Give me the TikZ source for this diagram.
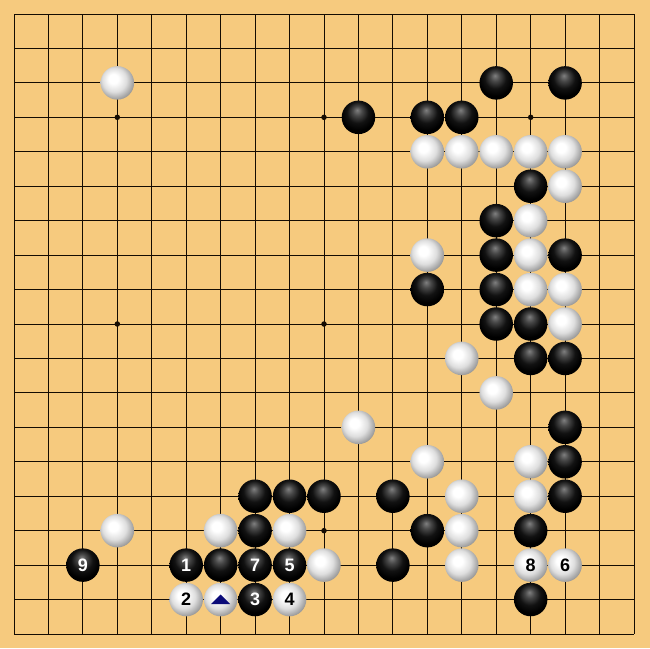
\documentclass[tikz,border=0pt]{standalone}
\usepackage{fontspec}
\setmainfont{Liberation Sans}
\definecolor{boardcol}{RGB}{246,202,126}
\definecolor{linecol}{RGB}{20,12,2}
\definecolor{trianglecol}{RGB}{10,10,120}
\pgfdeclareradialshading{blackstone}{\pgfpoint{-2bp}{11bp}}{color(0bp)=(black!50); color(7bp)=(black!72); color(16bp)=(black!93); color(25bp)=(black); color(50bp)=(black)}
\pgfdeclareradialshading{whitestone}{\pgfpoint{-7bp}{7bp}}{color(0bp)=(white); color(7bp)=(white); color(18bp)=(black!13); color(30bp)=(black!45); color(50bp)=(black!45)}
\tikzset{
  stone/.style={circle, inner sep=0pt, minimum size=33.5pt, draw=none, font=\fontsize{18}{18}\selectfont\bfseries},
  bstone/.style={stone, shading=blackstone, text=white},
  wstone/.style={stone, shading=whitestone, text=black},
  gridline/.style={draw=linecol, line width=1pt},
  starpt/.style={circle, fill=linecol, inner sep=0pt, minimum size=5.5pt},
  marktri/.style={fill=trianglecol}
}
\begin{document}
\begin{tikzpicture}[x=34.444pt,y=-34.444pt]
\useasboundingbox[fill=boardcol] (-0.40646,-0.40646) rectangle (18.4648,18.4067);
% grid
\foreach \i in {0,...,18} {
  \draw[gridline] (\i,0) -- (\i,18);
  \draw[gridline] (0,\i) -- (18,\i);
}
% star points
\foreach \c in {3,9,15} \foreach \r in {3,9,15}
  \node[starpt] (star-\c-\r) at (\c,\r) {};
% black stones
\foreach \c/\r in {14/2,16/2,10/3,12/3,13/3,15/5,14/6,14/7,16/7,12/8,14/8,14/9,15/9,15/10,16/10,16/12,16/13,7/14,8/14,9/14,11/14,16/14,7/15,12/15,15/15,6/16,11/16,15/17}
  \node[bstone] (s-\c-\r) at (\c,\r) {};
% white stones
\foreach \c/\r in {3/2,12/4,13/4,14/4,15/4,16/4,16/5,15/6,12/7,15/7,15/8,16/8,16/9,13/10,14/11,10/12,12/13,15/13,13/14,15/14,3/15,6/15,8/15,13/15,9/16,13/16,6/17}
  \node[wstone] (s-\c-\r) at (\c,\r) {};
% numbered black stones
\foreach \c/\r/\n in {2/16/9,5/16/1,7/16/7,8/16/5,7/17/3}
  \node[bstone] (s-\c-\r) at (\c,\r) {\n};
% numbered white stones
\foreach \c/\r/\n in {15/16/8,16/16/6,5/17/2,8/17/4}
  \node[wstone] (s-\c-\r) at (\c,\r) {\n};
% triangle mark
\fill[marktri] ([shift={(-9.5pt,-4.5pt)}]s-6-17.center) -- ([shift={(9.5pt,-4.5pt)}]s-6-17.center) -- ([shift={(0pt,5pt)}]s-6-17.center) -- cycle;
\end{tikzpicture}
\end{document}
